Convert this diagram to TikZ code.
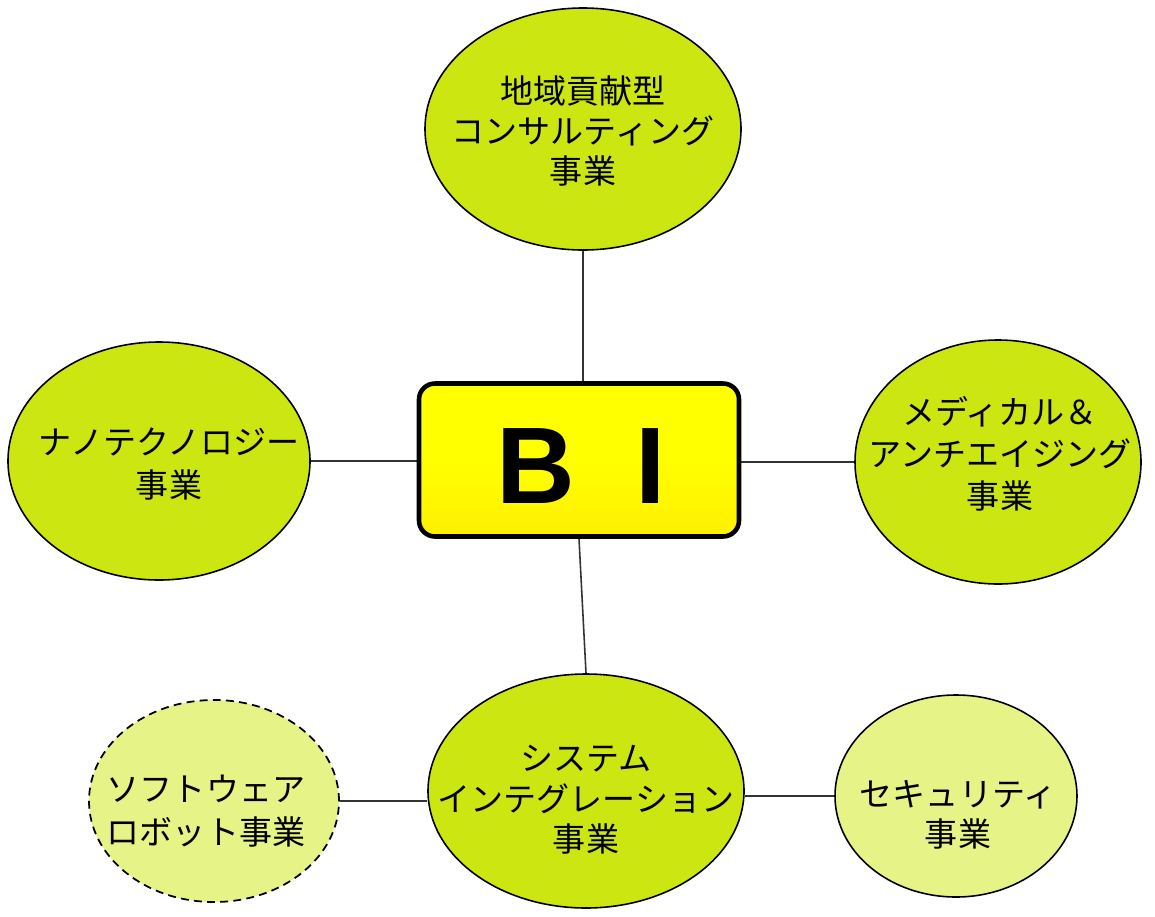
\documentclass[tikz,border=0pt]{standalone}
\usepackage{fontspec}
\newfontfamily\jp{Noto Sans CJK JP}
\newfontfamily\bisans{Liberation Sans}
\usetikzlibrary{shapes.geometric,backgrounds}
\newdimen\pxu \pxu=0.02cm
\definecolor{lime}{RGB}{204,230,18}
\definecolor{palelime}{RGB}{229,243,135}
\definecolor{biyellow}{RGB}{255,255,0}
\tikzset{
  bub/.style={ellipse, draw=black, line width=0.9pt, fill=lime, inner sep=0pt,
    align=center, font=\jp\fontsize{18.8}{23}\selectfont},
  palebub/.style={bub, fill=palelime},
  dashbub/.style={palebub, line width=1pt, dash pattern=on 4.5pt off 3pt},
  conn/.style={line width=0.9pt, draw=black!80},
  bibox/.style={rectangle, rounded corners=16\pxu, draw=black, line width=2.6pt,
    top color=biyellow, bottom color=biyellow!88!orange, middle color=biyellow,
    font=\bisans\bfseries\fontsize{62}{62}\selectfont},
}
\begin{document}
\begin{tikzpicture}[x=0.02cm,y=-0.02cm]
\useasboundingbox (0,0) rectangle (1155,916);
\node[bub, minimum width=316\pxu, minimum height=242\pxu] (top) at (583,129) {};
\node[bub, minimum width=302\pxu, minimum height=238\pxu] (left) at (159,461) {};
\node[bub, minimum width=286\pxu, minimum height=244\pxu] (right) at (998,462) {};
\node[bub, minimum width=316\pxu, minimum height=234\pxu] (sys) at (586,791) {};
\node[dashbub, minimum width=250\pxu, minimum height=202\pxu] (soft) at (214,801) {};
\node[palebub, minimum width=242\pxu, minimum height=202\pxu] (sec) at (956,796) {};
\node[bibox, minimum width=320\pxu, minimum height=153\pxu] (bi) at (579,460) {};
\begin{scope}[on background layer]
\draw[conn] (top.south) -- (top.south |- bi.north);
\draw[conn] (left.east) -- (left.east -| bi.west);
\draw[conn] (bi.east |- right.west) -- (right.west);
\draw[conn] (bi.south) -- (sys.north);
\draw[conn] (soft.east) -- (sys.west |- soft.east);
\draw[conn] (sys.east |- sec.west) -- (sec.west);
\end{scope}
% texts
\node[align=center, font=\jp\fontsize{18.8}{23}\selectfont] (ttop) at (583,131) {地域貢献型\\コンサルティング\\事業};
\node[align=center, font=\jp\fontsize{18.8}{24.5}\selectfont] (tleft) at (169,464) {ナノテクノロジー\\事業};
\node[align=center, font=\jp\fontsize{18.8}{24}\selectfont] (tright) at (1000,454) {メディカル＆\\アンチエイジング\\事業};
\node[align=center, font=\jp\fontsize{18.8}{23}\selectfont] (tsys) at (586,800) {システム\\インテグレーション\\事業};
\node[align=center, font=\jp\fontsize{18.8}{24.5}\selectfont] (tsoft) at (206,811) {ソフトウェア\\ロボット事業};
\node[align=center, font=\jp\fontsize{18.8}{23}\selectfont] (tsec) at (958,815) {セキュリティ\\事業};
\node[font=\bisans\bfseries\fontsize{62}{62}\selectfont] (tbi) at (581,466) {B\hspace{0.55em}I};
\end{tikzpicture}
\end{document}
